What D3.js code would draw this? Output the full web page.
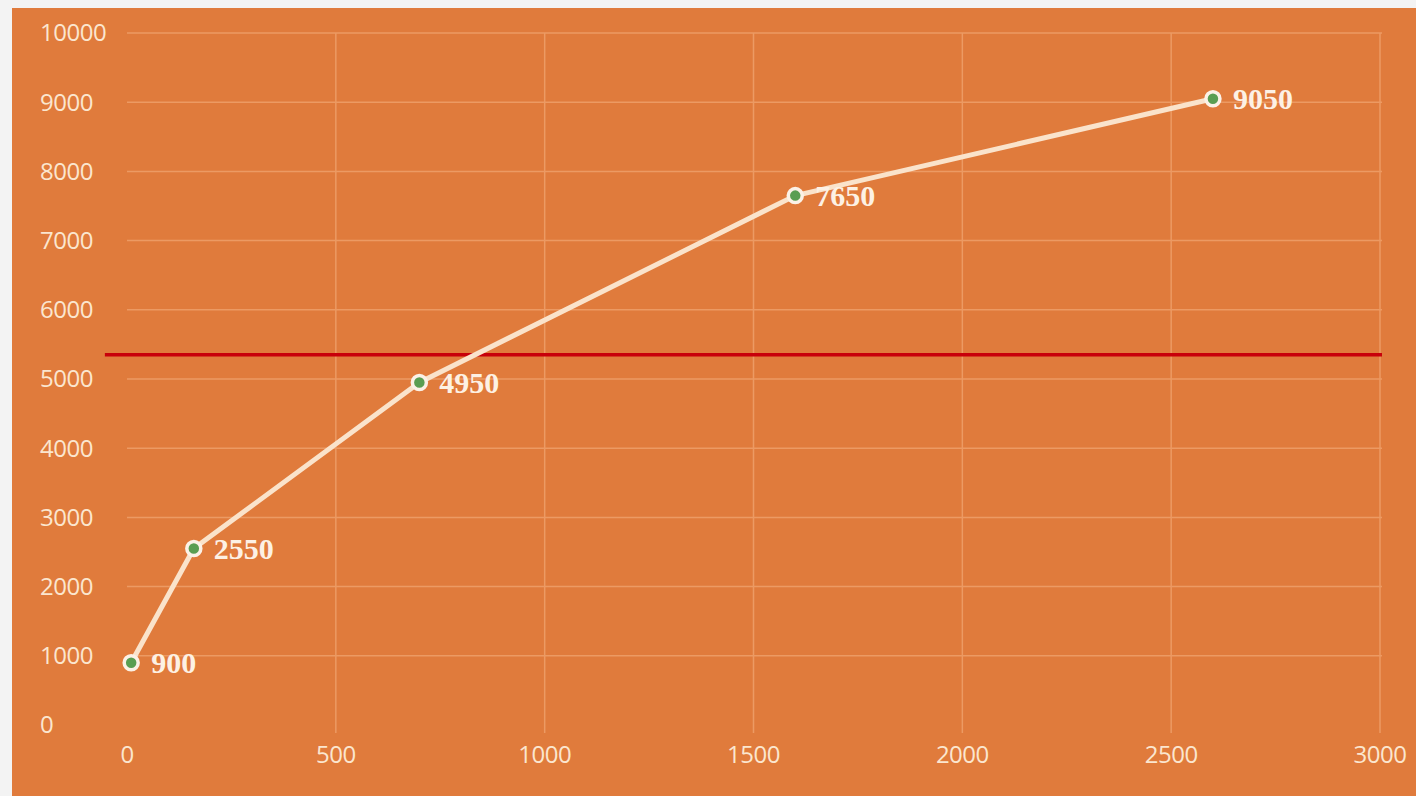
<!DOCTYPE html>
<html>
<head>
<meta charset="utf-8">
<script src="https://cdn.jsdelivr.net/npm/d3@7"></script>
<style>
  html, body { margin: 0; padding: 0; background: #f3f3f3; }
  svg { display: block; }
</style>
</head>
<body>
<svg id="chart" width="1416" height="796"></svg>
<script>
// Series data
const xValues = [10, 160, 700, 1600, 2600];
const yValues = [900, 2550, 4950, 7650, 9050];
// Axis ticks
const xTicks = [0, 500, 1000, 1500, 2000, 2500, 3000];
const yTicks = [0, 1000, 2000, 3000, 4000, 5000, 6000, 7000, 8000, 9000, 10000];
// Reference (threshold) line
const thresholdValue = 5350;
const thresholdFrom = -53;
const thresholdTo = 3000;

const svg = d3.select("#chart");
const W = 1416, H = 796;

// Panel background
svg.append("rect")
  .attr("x", 12).attr("y", 8)
  .attr("width", W - 12).attr("height", H - 8)
  .attr("fill", "#e07b3c");

const x = d3.scaleLinear().domain([0, 3000]).range([127, 1380]);
const y = d3.scaleLinear().domain([0, 10000]).range([725, 33]);

const grid = svg.append("g");
// Horizontal grid
grid.selectAll("line.h").data(yTicks.filter(d => d > 0)).join("line")
  .attr("class", "h")
  .attr("x1", x(0)).attr("x2", x(3000) + 2)
  .attr("y1", d => y(d)).attr("y2", d => y(d))
  .attr("stroke", "#ec9a63").attr("stroke-width", 1.5);
// Vertical grid
grid.selectAll("line.v").data(xTicks.filter(d => d > 0)).join("line")
  .attr("class", "v")
  .attr("x1", d => x(d)).attr("x2", d => x(d))
  .attr("y1", y(10000)).attr("y2", y(0) + 8)
  .attr("stroke", "#ec9a63").attr("stroke-width", 1.5);

// Y tick labels (left aligned)
svg.append("g").selectAll("text").data(yTicks).join("text")
  .attr("x", 40).attr("y", d => y(d))
  .attr("dy", "0.35em")
  .attr("font-family", "'Open Sans', 'Noto Sans', sans-serif")
  .attr("font-size", 24)
  .attr("letter-spacing", -0.5)
  .attr("fill", "#fbe6cf")
  .text(d => d);

// X tick labels
svg.append("g").selectAll("text").data(xTicks).join("text")
  .attr("x", d => x(d)).attr("y", 755)
  .attr("dy", "0.35em")
  .attr("text-anchor", "middle")
  .attr("font-family", "'Open Sans', 'Noto Sans', sans-serif")
  .attr("font-size", 24)
  .attr("letter-spacing", -0.5)
  .attr("fill", "#fbe6cf")
  .text(d => d);

// Threshold line
svg.append("line")
  .attr("x1", x(thresholdFrom)).attr("x2", x(thresholdTo) + 2)
  .attr("y1", y(thresholdValue)).attr("y2", y(thresholdValue))
  .attr("stroke", "#c8000a").attr("stroke-width", 3.5);

const pts = xValues.map((v, i) => ({ x: v, y: yValues[i] }));

// Series line
svg.append("path")
  .datum(pts)
  .attr("d", d3.line().x(d => x(d.x)).y(d => y(d.y)))
  .attr("fill", "none")
  .attr("stroke", "#fae3cb")
  .attr("stroke-width", 5)
  .attr("stroke-linejoin", "round")
  .attr("stroke-linecap", "round");

// Markers
svg.append("g").selectAll("circle").data(pts).join("circle")
  .attr("cx", d => x(d.x)).attr("cy", d => y(d.y))
  .attr("r", 7)
  .attr("fill", "#5a9e52")
  .attr("stroke", "#fbf1e6")
  .attr("stroke-width", 3.5);

// Value labels
svg.append("g").selectAll("text").data(pts).join("text")
  .attr("x", d => x(d.x) + 20).attr("y", d => y(d.y))
  .attr("dy", "0.35em")
  .attr("font-family", "'Liberation Serif', 'DejaVu Serif', serif")
  .attr("font-weight", "bold")
  .attr("font-size", 30)
  .attr("fill", "#fdf1e4")
  .text(d => d.y);
</script>
</body>
</html>
